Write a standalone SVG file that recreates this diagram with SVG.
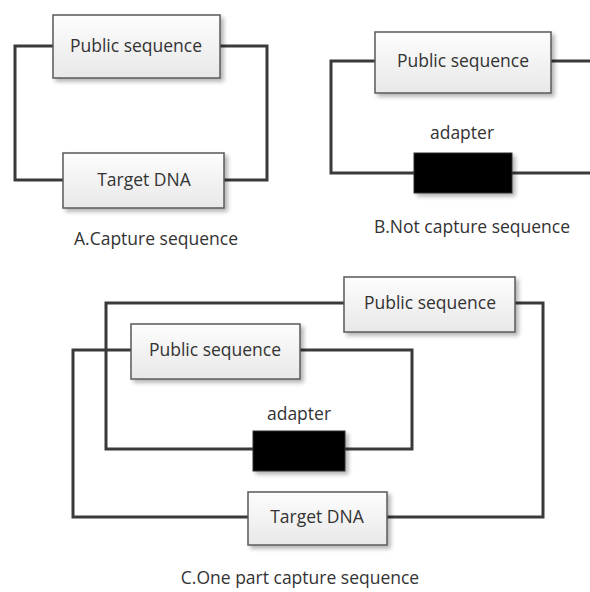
<svg xmlns="http://www.w3.org/2000/svg" width="590" height="592" viewBox="0 0 590 592">
<defs>
<linearGradient id="g" x1="0" y1="0" x2="0" y2="1">
<stop offset="0" stop-color="#fdfdfd"/>
<stop offset="1" stop-color="#e8e8e8"/>
</linearGradient>
<filter id="sh" x="-10%" y="-10%" width="130%" height="140%">
<feGaussianBlur in="SourceAlpha" stdDeviation="2"/>
<feOffset dx="3" dy="3" result="b"/>
<feComponentTransfer><feFuncA type="linear" slope="0.3"/></feComponentTransfer>
<feMerge><feMergeNode/><feMergeNode in="SourceGraphic"/></feMerge>
</filter>
</defs>
<style>
.box{fill:url(#g);stroke:#5a5a5a;stroke-width:1.5;filter:url(#sh)}
.blk{fill:#000;stroke:#333;stroke-width:1;filter:url(#sh)}
.w{fill:none;stroke:#3a3a3a;stroke-width:3}
.t{font-family:"Open Sans","Liberation Sans",sans-serif;font-size:17.5px;fill:#333;text-anchor:middle}
.c{font-family:"Open Sans","Liberation Sans",sans-serif;font-size:17.5px;fill:#333;text-anchor:middle}
</style>
<g id="connectors">
<polyline class="w" points="53,46 15,46 15,180 63,180"/>
<polyline class="w" points="220,46 267,46 267,180 224,180"/>
<polyline class="w" points="375,61 331,61 331,173 414,173"/>
<polyline class="w" points="551,61 590,61"/>
<polyline class="w" points="512,173 590,173"/>
<polyline class="w" points="344,303 106,303 106,449 253,449"/>
<polyline class="w" points="515,303 543,303 543,517 387,517"/>
<polyline class="w" points="131,350 73,350 73,517 248,517"/>
<polyline class="w" points="300,350 412,350 412,449 345,449"/>
</g>
<g id="a-public"><rect class="box" x="53" y="15" width="167" height="63"/><text class="t" x="136" y="52">Public sequence</text></g>
<g id="a-target"><rect class="box" x="63" y="153" width="161" height="55"/><text class="t" x="144" y="186">Target DNA</text></g>
<g id="a-caption"><text class="c" x="156" y="245">A.Capture sequence</text></g>
<g id="b-public"><rect class="box" x="375" y="32" width="176" height="61"/><text class="t" x="463" y="67">Public sequence</text></g>
<g id="b-adapter"><text class="t" x="462" y="139">adapter</text><rect class="blk" x="414" y="153" width="98" height="40"/></g>
<g id="b-caption"><text class="c" x="472" y="233">B.Not capture sequence</text></g>
<g id="c-public1"><rect class="box" x="344" y="277" width="171" height="55"/><text class="t" x="430" y="309">Public sequence</text></g>
<g id="c-public2"><rect class="box" x="131" y="324" width="169" height="55"/><text class="t" x="215" y="356">Public sequence</text></g>
<g id="c-adapter"><text class="t" x="299" y="420">adapter</text><rect class="blk" x="253" y="431" width="92" height="40"/></g>
<g id="c-target"><rect class="box" x="248" y="492" width="139" height="53"/><text class="t" x="317" y="523">Target DNA</text></g>
<g id="c-caption"><text class="c" x="300" y="584">C.One part capture sequence</text></g>
</svg>
